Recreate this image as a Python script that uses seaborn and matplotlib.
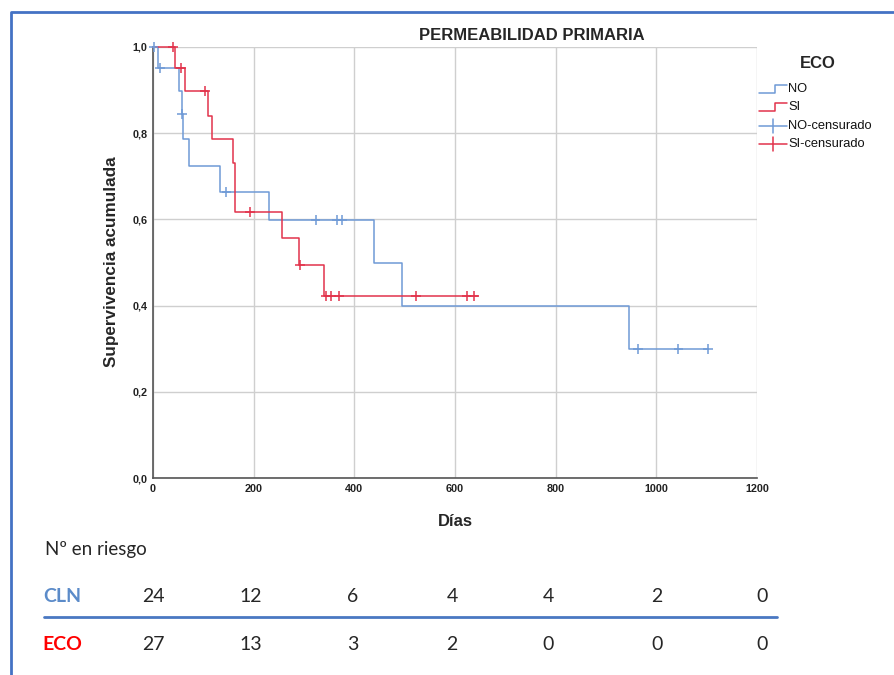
import numpy as np
import pandas as pd
import matplotlib
matplotlib.use("Agg")
import matplotlib.pyplot as plt
from matplotlib.lines import Line2D
from matplotlib.ticker import FuncFormatter
import seaborn as sns

# ----------------------------------------------------------------
# DATA
# ----------------------------------------------------------------
no_dias = [0, 10, 52, 57, 60, 72, 134, 231, 439, 494, 946, 1103]
no_surv = [1.0, 0.952, 0.898, 0.845, 0.786, 0.724, 0.663, 0.598, 0.500, 0.400, 0.300, 0.300]
no_cens = [1, 14, 58, 146, 323, 366, 375, 963, 1044, 1103]

si_dias = [0, 44, 63, 110, 118, 159, 163, 256, 290, 340, 645]
si_surv = [1.0, 0.952, 0.898, 0.841, 0.786, 0.730, 0.618, 0.556, 0.494, 0.423, 0.423]
si_cens = [40, 55, 104, 193, 292, 344, 353, 370, 522, 623, 638]

grupos = ["NO", "SI"]
colores = {"NO": "#6F9AD6", "SI": "#E2334B"}

x_ticks = [0, 200, 400, 600, 800, 1000, 1200]
y_ticks = [0.0, 0.2, 0.4, 0.6, 0.8, 1.0]

riesgo_filas = ["CLN", "ECO"]
riesgo_cln = [24, 12, 6, 4, 4, 2, 0]
riesgo_eco = [27, 13, 3, 2, 0, 0, 0]
riesgo_x_px = [153, 251, 353, 452, 548, 657, 762]


def step_value(t, dias, surv):
    idx = np.searchsorted(dias, t, side="right") - 1
    return np.asarray(surv)[idx]


curvas = pd.concat([
    pd.DataFrame({"dias": no_dias, "superv": no_surv, "grupo": "NO"}),
    pd.DataFrame({"dias": si_dias, "superv": si_surv, "grupo": "SI"}),
], ignore_index=True)

censuras = pd.concat([
    pd.DataFrame({"dias": no_cens, "superv": step_value(no_cens, no_dias, no_surv), "grupo": "NO"}),
    pd.DataFrame({"dias": si_cens, "superv": step_value(si_cens, si_dias, si_surv), "grupo": "SI"}),
], ignore_index=True)

# ----------------------------------------------------------------
# FIGURE
# ----------------------------------------------------------------
sns.set_style("white")
plt.rcParams["font.family"] = ["Liberation Sans", "DejaVu Sans"]

W, H = 895, 675
fig = plt.figure(figsize=(W / 100, H / 100), dpi=100)


def fx(px):
    return px / W


def fy(py):
    return 1 - py / H


ax = fig.add_axes([fx(153), fy(478), fx(757) - fx(153), fy(47) - fy(478)])

sns.lineplot(data=curvas, x="dias", y="superv", hue="grupo", hue_order=grupos,
             palette=colores, drawstyle="steps-post", estimator=None,
             linewidth=1.1, legend=False, ax=ax, clip_on=False, zorder=3)
sns.scatterplot(data=censuras, x="dias", y="superv", hue="grupo", hue_order=grupos,
                palette=colores, marker="+", s=50, linewidth=1.1,
                legend=False, ax=ax, clip_on=False, zorder=4)

ax.set_xlim(0, 1200)
ax.set_ylim(0, 1.0)
ax.set_xticks(x_ticks)
ax.set_yticks(y_ticks)
ax.yaxis.set_major_formatter(FuncFormatter(lambda v, p: f"{v:.1f}".replace(".", ",")))
ax.tick_params(labelsize=7.8, length=2, pad=2, colors="#222222")
for lab in ax.get_xticklabels() + ax.get_yticklabels():
    lab.set_fontweight("bold")
ax.grid(True, color="#CFCFCF", linewidth=1)
ax.set_axisbelow(True)
for side in ["top", "right"]:
    ax.spines[side].set_visible(False)
for side in ["left", "bottom"]:
    ax.spines[side].set_color("#555555")
    ax.spines[side].set_linewidth(1.2)
ax.set_xlabel("")
ax.set_ylabel("")

fig.text(fx(532), fy(35), "PERMEABILIDAD PRIMARIA", ha="center", va="center",
         fontsize=12, fontweight="bold")
fig.text(fx(112), fy(262), "Supervivencia acumulada", ha="center", va="center",
         rotation=90, fontsize=12.3, fontweight="bold")
fig.text(fx(455), fy(521), "Días", ha="center", va="center",
         fontsize=12, fontweight="bold")

# legend drawn by hand (step icons + censor icons)
fig.text(fx(818), fy(63), "ECO", ha="center", va="center", fontsize=12, fontweight="bold")
leg_y = [89, 107, 126, 144]
leg_txt = ["NO", "SI", "NO-censurado", "SI-censurado"]
leg_col = [colores["NO"], colores["SI"], colores["NO"], colores["SI"]]
for i, (yy, txt, col) in enumerate(zip(leg_y, leg_txt, leg_col)):
    if i < 2:
        xs = [fx(759), fx(775), fx(775), fx(787)]
        ys = [fy(yy + 4), fy(yy + 4), fy(yy - 4), fy(yy - 4)]
        fig.add_artist(Line2D(xs, ys, color=col, linewidth=1.1))
    else:
        fig.add_artist(Line2D([fx(759), fx(787)], [fy(yy), fy(yy)], color=col, linewidth=1.1))
        fig.add_artist(Line2D([fx(773), fx(773)], [fy(yy - 7), fy(yy + 7)], color=col, linewidth=1.1))
    fig.text(fx(788), fy(yy), txt, ha="left", va="center", fontsize=9.3, color="#111111")

# number-at-risk table
tabla_font = ["Lato", "DejaVu Sans"]
fig.text(fx(45), fy(550), "Nº en riesgo", ha="left", va="center", fontsize=13.5,
         family=tabla_font)
fila_y = {"CLN": 597, "ECO": 645}
fila_col = {"CLN": "#5B8BC9", "ECO": "#FF0000"}
fila_val = {"CLN": riesgo_cln, "ECO": riesgo_eco}
for fila in riesgo_filas:
    fig.text(fx(62), fy(fila_y[fila]), fila, ha="center", va="center", fontsize=14,
             fontweight="bold", color=fila_col[fila], family=tabla_font)
    for xp, v in zip(riesgo_x_px, fila_val[fila]):
        fig.text(fx(xp), fy(fila_y[fila]), str(v), ha="center", va="center", fontsize=14,
                 family=tabla_font)
fig.add_artist(Line2D([fx(44), fx(777)], [fy(617), fy(617)], color="#4A78C2", linewidth=2))

# slide frame
fig.add_artist(Line2D([fx(11), fx(11), fx(W + 5)], [fy(H + 5), fy(12), fy(12)],
                      color="#4472C4", linewidth=2))

fig.savefig("out.png", dpi=100)
